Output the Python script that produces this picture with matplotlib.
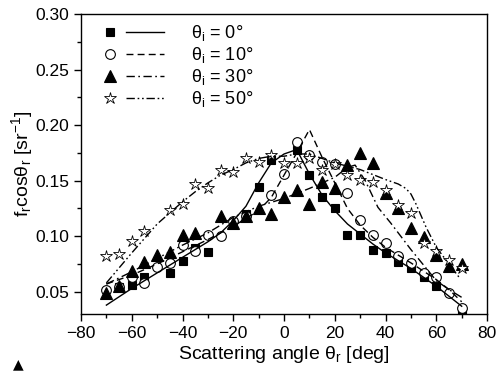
import matplotlib
matplotlib.use('Agg')
import matplotlib.pyplot as plt
from matplotlib.lines import Line2D
from matplotlib.legend_handler import HandlerBase

plt.rcParams['font.family'] = ['Liberation Sans', 'DejaVu Sans']
plt.rcParams['mathtext.fontset'] = 'custom'
plt.rcParams['mathtext.rm'] = 'Liberation Sans'
plt.rcParams['mathtext.it'] = 'Liberation Sans'

# measured points, theta_i = 0, 10, 30, 50 deg
ang_sq = [-65, -60, -55, -45, -40, -35, -30, -15, -10, -5, 5, 10, 15, 20, 25, 30, 35, 40, 45, 50, 55, 60, 70]
val_sq = [0.054, 0.056, 0.063, 0.067, 0.078, 0.089, 0.086, 0.120, 0.144, 0.169, 0.178, 0.155, 0.135, 0.125,
          0.101, 0.101, 0.088, 0.085, 0.077, 0.071, 0.063, 0.055, 0.032]

ang_ci = [-70, -65, -60, -55, -50, -45, -40, -35, -30, -25, -20, -15, -5, 0, 5, 10, 15, 20, 25, 30, 35, 40, 45,
          50, 55, 60, 65, 70]
val_ci = [0.052, 0.054, 0.063, 0.058, 0.072, 0.076, 0.092, 0.087, 0.101, 0.100, 0.114, 0.118, 0.137, 0.156, 0.185,
          0.173, 0.167, 0.165, 0.139, 0.115, 0.101, 0.094, 0.082, 0.076, 0.067, 0.063, 0.049, 0.035]

ang_tr = [-70, -65, -60, -55, -50, -45, -40, -35, -25, -20, -15, -10, -5, 0, 5, 10, 15, 20, 25, 30, 35, 40, 45,
          50, 55, 60, 65, 70]
val_tr = [0.049, 0.055, 0.069, 0.077, 0.083, 0.086, 0.101, 0.103, 0.118, 0.112, 0.118, 0.125, 0.120, 0.135, 0.142,
          0.129, 0.149, 0.143, 0.164, 0.175, 0.166, 0.139, 0.125, 0.107, 0.099, 0.083, 0.073, 0.075]

ang_st = [-70, -65, -60, -55, -45, -40, -35, -30, -25, -20, -15, -10, -5, 0, 5, 10, 15, 20, 25, 30, 35, 40, 45,
          50, 55, 60, 65, 70]
val_st = [0.082, 0.084, 0.096, 0.105, 0.124, 0.129, 0.147, 0.143, 0.160, 0.158, 0.170, 0.167, 0.173, 0.166, 0.166,
          0.170, 0.160, 0.165, 0.155, 0.151, 0.149, 0.142, 0.128, 0.121, 0.094, 0.087, 0.079, 0.071]

# model curves
ang_l0 = [-70, -60, -50, -40, -30, -25, -20, -15, -10, -5, 0, 5, 10, 15, 20, 25, 30, 35, 40, 45, 50, 55, 60, 65, 70]
val_l0 = [0.038, 0.053, 0.067, 0.081, 0.095, 0.103, 0.114, 0.127, 0.148, 0.166, 0.174, 0.178, 0.156, 0.137, 0.123,
          0.111, 0.102, 0.093, 0.085, 0.078, 0.071, 0.063, 0.055, 0.046, 0.037]

ang_l10 = [-70, -60, -50, -40, -30, -20, -10, -5, 0, 5, 10, 15, 20, 25, 30, 35, 40, 50, 60, 65, 70]
val_l10 = [0.057, 0.065, 0.075, 0.086, 0.097, 0.109, 0.123, 0.135, 0.155, 0.175, 0.196, 0.171, 0.148, 0.125, 0.110,
           0.099, 0.090, 0.076, 0.061, 0.052, 0.041]

ang_l30 = [-70, -60, -50, -40, -30, -20, -10, 0, 10, 20, 25, 28, 32, 37, 42, 50, 60, 65, 70]
val_l30 = [0.057, 0.068, 0.080, 0.092, 0.103, 0.117, 0.127, 0.134, 0.143, 0.153, 0.162, 0.164, 0.150, 0.126, 0.112,
           0.088, 0.060, 0.052, 0.045]

ang_l50 = [-70, -60, -50, -45, -40, -35, -30, -25, -20, -15, -10, -5, 0, 5, 10, 20, 30, 40, 45, 48, 50, 52, 56, 60,
           65, 69]
val_l50 = [0.058, 0.085, 0.111, 0.121, 0.131, 0.140, 0.148, 0.155, 0.160, 0.166, 0.170, 0.172, 0.172, 0.174, 0.174,
           0.166, 0.160, 0.151, 0.147, 0.143, 0.138, 0.129, 0.108, 0.090, 0.075, 0.063]

labels = ['θ$_\\mathrm{i}$ = 0°', 'θ$_\\mathrm{i}$ = 10°', 'θ$_\\mathrm{i}$ = 30°', 'θ$_\\mathrm{i}$ = 50°']


class MarkerThenLine(HandlerBase):
    # marker on the left, line sample to the right, like the original legend
    def create_artists(self, legend, orig_handle, xdescent, ydescent, width, height, fontsize, trans):
        pts, ln = orig_handle
        y = height / 2 - ydescent
        m = Line2D([width * 0.09 - xdescent], [y])
        m.update_from(pts)
        m.set_transform(trans)
        l = Line2D([width * 0.36 - xdescent, width - xdescent], [y, y])
        l.update_from(ln)
        l.set_transform(trans)
        return [m, l]


fig = plt.figure(figsize=(4.97, 3.74), dpi=100)
ax = fig.add_axes([0.163, 0.1604, 0.817, 0.8022])

mk = dict(linestyle='none', markeredgecolor='black', markeredgewidth=0.8)
p0, = ax.plot(ang_sq, val_sq, marker='s', markersize=6, markerfacecolor='black', **mk)
p1, = ax.plot(ang_ci, val_ci, marker='o', markersize=7, markerfacecolor='white', **mk)
p2, = ax.plot(ang_tr, val_tr, marker='^', markersize=8, markerfacecolor='black', **mk)
p3, = ax.plot(ang_st, val_st, marker='*', markersize=9, markerfacecolor='white', markeredgewidth=0.6,
              linestyle='none', markeredgecolor='black')

l0, = ax.plot(ang_l0, val_l0, color='black', lw=1.0, linestyle='-')
l1, = ax.plot(ang_l10, val_l10, color='black', lw=1.0, linestyle=(0, (5, 3)))
l2, = ax.plot(ang_l30, val_l30, color='black', lw=1.0, linestyle=(0, (6, 2.5, 1.2, 2.5)))
l3, = ax.plot(ang_l50, val_l50, color='black', lw=1.0, linestyle=(0, (6, 2, 1.2, 2, 1.2, 2)))

ax.set_xlim(-80, 80)
ax.set_ylim(0.03, 0.30)
ax.set_xticks(range(-80, 81, 20))
ax.set_xticks(range(-70, 80, 20), minor=True)
ax.set_yticks([0.05, 0.10, 0.15, 0.20, 0.25, 0.30])
ax.set_yticks([0.075, 0.125, 0.175, 0.225, 0.275], minor=True)
ax.set_yticklabels(['0.05', '0.10', '0.15', '0.20', '0.25', '0.30'])
ax.tick_params(which='both', direction='out', labelsize=12.5, width=1.0)
ax.tick_params(which='major', length=5)
ax.tick_params(which='minor', length=3)
for s in ax.spines.values():
    s.set_linewidth(1.0)

ax.set_xlabel('Scattering angle θ$_\\mathrm{r}$ [deg]', fontsize=14, labelpad=2)
ax.set_ylabel('f$_\\mathrm{r}$cosθ$_\\mathrm{r}$ [sr$^{-1}$]', fontsize=14)
ax.yaxis.set_label_coords(-0.113, 0.5)

ax.legend([(p0, l0), (p1, l1), (p2, l2), (p3, l3)], labels, handler_map={tuple: MarkerThenLine()},
          loc='upper left', bbox_to_anchor=(0.057, 0.97), frameon=False, fontsize=13,
          handlelength=3.3, handletextpad=1.5, labelspacing=0.12, borderpad=0, borderaxespad=0)

# stray marker from the source crop
fig.text(18 / 497, 0.025, '\u25B2', fontsize=10, ha='center', va='center', family='DejaVu Sans')

fig.savefig('out.png', dpi=100)
